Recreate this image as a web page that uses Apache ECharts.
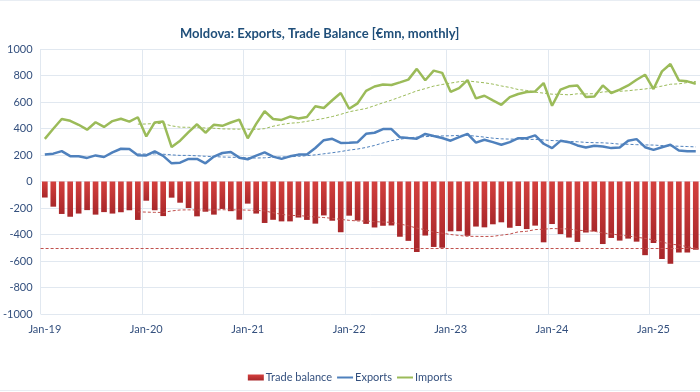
<!DOCTYPE html>
<html>
<head>
<meta charset="utf-8">
<script src="https://cdn.jsdelivr.net/npm/echarts@6/dist/echarts.min.js"></script>
<style>
html,body{margin:0;padding:0;background:#fff;}
#chart{width:700px;height:392px;}
</style>
</head>
<body>
<div id="chart"></div>
<script>
const categories = [
 'Jan-19','Feb-19','Mar-19','Apr-19','May-19','Jun-19','Jul-19','Aug-19','Sep-19','Oct-19','Nov-19','Dec-19',
 'Jan-20','Feb-20','Mar-20','Apr-20','May-20','Jun-20','Jul-20','Aug-20','Sep-20','Oct-20','Nov-20','Dec-20',
 'Jan-21','Feb-21','Mar-21','Apr-21','May-21','Jun-21','Jul-21','Aug-21','Sep-21','Oct-21','Nov-21','Dec-21',
 'Jan-22','Feb-22','Mar-22','Apr-22','May-22','Jun-22','Jul-22','Aug-22','Sep-22','Oct-22','Nov-22','Dec-22',
 'Jan-23','Feb-23','Mar-23','Apr-23','May-23','Jun-23','Jul-23','Aug-23','Sep-23','Oct-23','Nov-23','Dec-23',
 'Jan-24','Feb-24','Mar-24','Apr-24','May-24','Jun-24','Jul-24','Aug-24','Sep-24','Oct-24','Nov-24','Dec-24',
 'Jan-25','Feb-25','Mar-25','Apr-25','May-25','Jun-25'
];

const tradeBalance = [
 -121,-190,-245,-266,-242,-216,-250,-231,-242,-232,-217,-290,
 -145,-217,-261,-122,-160,-200,-263,-228,-250,-207,-224,-288,
 -167,-242,-313,-289,-301,-301,-272,-290,-318,-256,-296,-383,
 -258,-295,-320,-347,-334,-332,-417,-448,-532,-408,-494,-500,
 -376,-375,-410,-340,-346,-323,-308,-349,-336,-359,-333,-459,
 -321,-397,-423,-456,-385,-377,-472,-426,-446,-431,-454,-556,
 -464,-585,-621,-536,-536,-515
];

const exportsVals = [
 203,210,229,191,190,178,197,185,220,247,245,198,
 197,228,193,137,142,170,170,137,188,215,223,180,
 168,195,220,188,171,190,203,203,253,312,322,291,
 293,297,360,368,396,396,334,328,323,359,343,328,
 308,335,360,293,315,297,277,297,327,327,348,285,
 252,307,297,272,257,270,264,252,257,307,320,259,
 239,259,277,234,229,229
];

const importsVals = [
 322,398,472,458,428,391,447,412,456,474,452,485,
 340,446,452,260,308,372,432,368,429,420,445,467,
 326,435,530,472,465,490,476,487,568,555,613,668,
 549,590,684,717,732,728,748,769,850,764,837,820,
 677,705,765,627,647,612,579,637,660,675,680,743,
 572,693,718,725,637,642,725,668,693,725,768,806,
 698,831,887,763,756,738
];

// dashed trend lines, starting at Dec-19
const trendStart = 11;
const balanceTrend = [
 -229,-231,-233,-234,-222,-215,-214,-215,-215,-215,-213,-214,-214,
 -216,-218,-222,-236,-248,-256,-257,-262,-268,-272,-278,-286,
 -293,-298,-298,-303,-306,-308,-321,-334,-352,-364,-381,-390,
 -400,-407,-414,-414,-415,-414,-405,-397,-380,-376,-363,-360,
 -355,-357,-358,-368,-371,-375,-389,-395,-405,-411,-421,-429,
 -441,-456,-473,-479,-492,-504
];
const exportsTrend = [
 208,207,209,206,201,197,197,194,190,188,185,183,182,
 179,177,179,183,185,187,190,195,201,209,217,226,
 237,245,257,272,291,308,319,329,335,339,341,344,
 345,348,348,342,335,327,322,320,320,317,318,314,
 309,307,302,300,295,293,292,288,282,281,278,276,
 275,271,269,266,264,261
];
const importsTrend = [
 433,434,438,437,420,410,409,407,404,402,397,396,395,
 394,393,399,417,430,440,444,454,465,476,490,507,
 526,539,551,572,594,614,637,660,684,701,720,732,
 743,753,759,752,745,735,721,710,694,687,674,667,
 659,658,654,662,661,663,676,678,681,685,692,698,
 708,720,734,737,747,755
];
const balanceRefLine = -500;

const yMin = -1000, yMax = 1000, yStep = 200;

const pad = (arr) => new Array(trendStart).fill(null).concat(arr);

const txt = '#34507e';
const gridCol = '#e1e8f0';
const FONT = 'Lato, "Open Sans", sans-serif';
const lineIcon = 'path://M0,0H16V2H0Z';

const chart = echarts.init(document.getElementById('chart'), null, {renderer: 'canvas'});
chart.setOption({
  animation: false,
  backgroundColor: '#ffffff',
  textStyle: {fontFamily: FONT},
  title: {
    text: 'Moldova: Exports, Trade Balance [€mn, monthly]',
    left: 175, top: 22,
    textStyle: {fontFamily: FONT, fontSize: 13, fontWeight: 'bold', color: '#1f4e79'}
  },
  legend: {
    top: 367, left: 'center',
    itemWidth: 16, itemHeight: 6, itemGap: 5,
    symbolKeepAspect: true,
    textStyle: {fontFamily: FONT, fontSize: 11, color: txt, padding: [0,0,0,-3]},
    data: [
      {name: 'Trade balance', icon: 'rect'},
      {name: 'Exports', icon: lineIcon},
      {name: 'Imports', icon: lineIcon}
    ]
  },
  grid: {left: 37, right: -2, top: 49, bottom: 78, containLabel: false},
  xAxis: {
    type: 'category',
    data: categories,
    boundaryGap: true,
    axisLine: {show: false},
    axisTick: {show: false},
    axisLabel: {interval: 11, margin: 10, fontSize: 11, color: txt, fontFamily: FONT},
    splitLine: {show: true, interval: 11, lineStyle: {color: gridCol, width: 1}}
  },
  yAxis: {
    type: 'value',
    min: yMin, max: yMax, interval: yStep,
    axisLine: {show: false},
    axisTick: {show: false},
    axisLabel: {margin: 8, fontSize: 11, color: txt, fontFamily: FONT, formatter: (v) => String(v)},
    splitLine: {show: true, lineStyle: {color: gridCol, width: 1}}
  },
  series: [
    {
      name: 'Trade balance', type: 'bar', data: tradeBalance,
      barCategoryGap: '33%',
      itemStyle: {
        color: new echarts.graphic.LinearGradient(0, 0, 0, 1, [
          {offset: 0, color: '#d4403e'},
          {offset: 1, color: '#a8272a'}
        ])
      },
      markLine: {
        silent: true, symbol: 'none', label: {show: false},
        lineStyle: {color: '#c0504d', type: [3, 2], width: 1},
        data: [{yAxis: balanceRefLine}]
      },
      z: 1
    },
    {
      name: 'Balance trend', type: 'line', data: pad(balanceTrend),
      symbol: 'none', smooth: false,
      lineStyle: {color: '#c0504d', width: 1, type: [3, 2]}, z: 3
    },
    {
      name: 'Exports', type: 'line', data: exportsVals,
      symbol: 'none', itemStyle: {color: '#4f81bd'},
      lineStyle: {color: '#4f81bd', width: 2.5}, z: 4
    },
    {
      name: 'Imports', type: 'line', data: importsVals,
      symbol: 'none', itemStyle: {color: '#9bbb59'},
      lineStyle: {color: '#9bbb59', width: 2.5}, z: 4
    },
    {
      name: 'Exports trend', type: 'line', data: pad(exportsTrend),
      symbol: 'none',
      lineStyle: {color: '#4f81bd', width: 1, type: [3, 2]}, z: 5
    },
    {
      name: 'Imports trend', type: 'line', data: pad(importsTrend),
      symbol: 'none',
      lineStyle: {color: '#9bbb59', width: 1, type: [3, 2]}, z: 5
    }
  ],
  graphic: [
    {type: 'line', shape: {x1: 0, y1: 0.5, x2: 700, y2: 0.5}, style: {stroke: '#e8edf3', lineWidth: 1}, silent: true},
    {type: 'line', shape: {x1: 0, y1: 390.5, x2: 700, y2: 390.5}, style: {stroke: '#e8edf3', lineWidth: 1}, silent: true}
  ]
});
</script>
</body>
</html>
